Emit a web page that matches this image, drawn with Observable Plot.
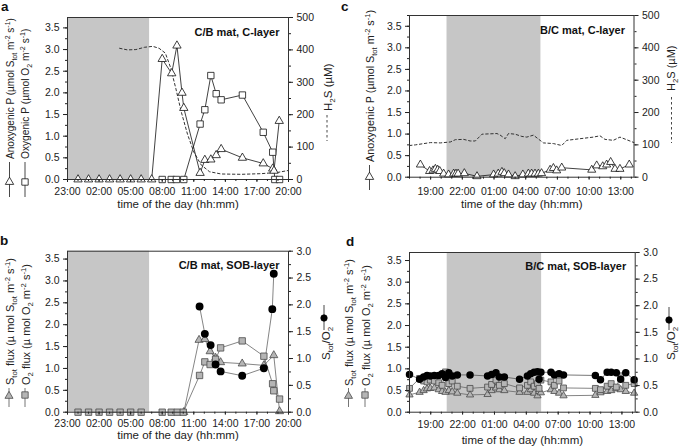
<!DOCTYPE html>
<html><head><meta charset="utf-8">
<script src="https://cdn.jsdelivr.net/npm/d3@7"></script>
<script src="https://cdn.jsdelivr.net/npm/@observablehq/plot@0.6"></script>
<style>
body{margin:0;background:#fff;}
#chart{position:relative;width:679px;height:448px;overflow:hidden;background:#fff;}
#chart svg{position:absolute;}
</style></head><body><div id="chart"></div>
<script>
const FONT = '"Liberation Sans", Arial, Helvetica, sans-serif';

// ---------- Panel a: C/B mat, C-layer ----------
const aAnoxHour = [24,25,26,27,28,29,30,31,32.0,32.9,33.4,33.88,34.05,35.6,36.05,36.62,37.13,37.6,39.62,41.6,42.5,42.62,43.12];
const aAnoxP    = [0,0,0,0,0,0,0,0,2.78,2.45,3.09,2.0,1.65,0.15,0.45,0.46,0.56,0.7,0.5,0.37,0.25,0.2,1.35];
const aOxyHour  = [32.0,32.86,33.35,34.05,35.6,36.05,36.62,37.13,37.6,39.62,41.6,42.5,42.7,43.15];
const aOxyP     = [0,0,0,0,1.28,1.61,2.4,1.98,1.84,1.95,1.09,0.63,0,0];
const aH2SHour  = [27.95,28.7,29.5,30.3,31.1,31.7,32.3,32.8,33.3,33.8,34.4,35.0,35.7,36.5,37.6,39.5,41.4,43.0,44.0];
const aH2S      = [405,400,401,408,411,405,390,345,280,210,140,85,45,24,17,16,18,22,28];

// ---------- Panel b: C/B mat, SOB-layer ----------
const bSHour  = [34.05,35.5,36.05,36.55,37.07,37.55,39.6,41.66,42.6,43.15];
const bSFlux  = [0,1.65,1.67,1.39,1.24,1.14,1.11,1.07,1.3,0.02];
const bO2Hour = [24,25,26,27,28,29,30,32,32.86,33.43,34.0,35.55,36.05,36.55,37.07,37.55,39.6,41.66,42.49,42.6,43.15];
const bO2Flux = [0,0,0,0,0,0,0,0,0,0,0,0.84,1.15,1.09,1.21,1.47,1.63,1.28,0.65,0.49,0.30];
const bRHour  = [35.55,36.05,36.6,37.07,37.55,39.6,41.66,42.46,42.6];
const bRatio  = [1.97,1.46,1.25,0.89,0.76,0.68,0.82,1.92,2.58];

// ---------- Panel c: B/C mat, C-layer ----------
const cAnoxHour = [18.03,18.9,19.23,19.45,19.67,19.86,20.23,20.7,21.18,21.4,21.6,22.19,23.39,24.96,25.4,25.75,25.97,26.37,27.0,27.73,28.25,28.56,28.88,29.2,29.5,30.31,30.62,30.93,31.41,34.25,34.72,35.29,35.66,36.04,36.45,36.92,37.8];
const cAnoxP    = [0.29,0.14,0.155,0.19,0.17,0.14,0.08,0.06,0.08,0.08,0.08,0.09,0.02,0.06,0.08,0.12,0.09,0.06,0.02,0.06,0.08,0.08,0.08,0.08,0.09,0.17,0.21,0.155,0.22,0.17,0.27,0.25,0.29,0.35,0.19,0.19,0.29];
const cH2SHour  = [17.0,17.56,18.98,19.92,20.87,21.34,22.12,22.75,23.23,23.86,25.28,25.59,26.06,26.37,27.0,27.64,28.1,28.73,29.36,29.68,30.62,31.41,31.89,33.14,34.4,35.03,35.5,36.29,36.92,37.55,38.25];
const cH2S      = [98,100,107,106,109,116,117,112,112,133,135,130,119,135,133,126,124,130,114,106,104,98,114,119,124,128,117,114,124,116,107];

// ---------- Panel d: B/C mat, SOB-layer ----------
const dHour  = [17.0,17.95,18.33,18.65,18.96,19.34,19.75,20.07,20.39,20.7,21.02,21.5,22.7,24.35,24.73,25.14,25.46,25.93,27.36,28.1,28.41,28.73,29.05,29.2,29.37,30.32,30.64,31.08,31.5,34.5,34.98,35.61,35.99,36.47,36.88,37.36,38.15];
const dSFlux = [0.40,0.46,0.50,0.54,0.55,0.56,0.52,0.48,0.46,0.50,0.47,0.44,0.40,0.41,0.50,0.56,0.52,0.50,0.46,0.46,0.52,0.44,0.38,0.48,0.45,0.52,0.48,0.44,0.38,0.39,0.45,0.48,0.50,0.54,0.52,0.48,0.44];
const dO2Flux= [0.55,0.78,0.72,0.70,0.74,0.72,0.68,0.62,0.93,0.66,0.72,0.60,0.55,0.58,0.64,0.74,0.62,0.66,0.56,0.62,0.70,0.60,0.66,0.55,0.74,0.70,0.62,0.72,0.56,0.55,0.52,0.60,0.66,0.58,0.84,0.62,0.66];
const dRatio = [0.71,0.62,0.66,0.69,0.68,0.69,0.69,0.72,0.65,0.74,0.68,0.70,0.70,0.68,0.71,0.74,0.66,0.66,0.62,0.68,0.72,0.75,0.76,0.62,0.75,0.75,0.70,0.72,0.70,0.69,0.61,0.75,0.75,0.74,0.62,0.74,0.61];

// ---------- axes ----------
const abTicks = [23,26,29,32,35,38,41,44];
const abTickLabels = ["23:00","02:00","05:00","08:00","11:00","14:00","17:00","20:00"];
const cdTicks = [19,22,25,28,31,34,37];
const cdTickLabels = ["19:00","22:00","01:00","04:00","07:00","10:00","13:00"];
const leftTicks = [0,0.5,1,1.5,2,2.5,3,3.5];
const h2sTicks = [0,100,200,300,400,500];
const ratioTicks = [0,0.5,1,1.5,2,2.5,3];
const xTitle = "time of the day (hh:mm)";
const nightAB = [23, 30.8];
const nightCD = [20.55, 29.44];

const zip = (xs, ys) => xs.map((x, i) => ({x, y: ys[i]}));

function build(cfg) {
  const k = cfg.yTop / cfg.rightTop;
  const tickMap = new Map(cfg.xTicks.map((t, i) => [t, cfg.xLabels[i]]));
  const hours = d3.range(Math.ceil(cfg.xDomain[0]), Math.floor(cfg.xDomain[1]) + 1);
  const minorL = d3.range(0, cfg.yTop + 1e-9, 0.25);
  const rStep = cfg.rightTop === 500 ? 50 : 0.25;
  const minorR = d3.range(0, cfg.rightTop + 1e-9, rStep).map(v => v * k);
  const majorR = cfg.rightTicks.map(v => v * k);
  const svg = Plot.plot({
    width: cfg.w, height: cfg.h,
    marginLeft: cfg.ml, marginRight: cfg.mr, marginTop: cfg.mt, marginBottom: cfg.mb,
    x: {domain: cfg.xDomain},
    y: {domain: [0, cfg.yTop]},
    style: {fontFamily: FONT, fontSize: "10.5px", color: "#222", background: "transparent", overflow: "visible"},
    marks: [
      Plot.rect([cfg.night], {x1: d => d[0], x2: d => d[1], y1: () => 0, y2: () => cfg.yTop, fill: "#c6c6c6"}),
      ...cfg.marks(k),
      Plot.frame({stroke: "#333", strokeWidth: 1}),
      Plot.axisY({ticks: minorL, tickSize: 2, tickFormat: () => "", label: null}),
      Plot.axisY({ticks: leftTicks, tickSize: 4, tickPadding: 4, tickFormat: d => d.toFixed(1), label: null}),
      Plot.axisY({anchor: "right", ticks: minorR, tickSize: 2, tickFormat: () => "", label: null}),
      Plot.axisY({anchor: "right", ticks: majorR, tickSize: 4, tickPadding: 4, tickFormat: d => cfg.rightFmt(d / k), label: null}),
      Plot.axisX({ticks: hours, tickSize: 2, tickFormat: () => "", label: null}),
      Plot.axisX({ticks: cfg.xTicks, tickSize: 3, tickPadding: cfg.xPad, tickFormat: d => tickMap.get(d), label: null}),
      Plot.text([xTitle], {frameAnchor: "bottom", dy: cfg.titleDy, fontSize: 11.5, fill: "#222"}),
      Plot.text([cfg.title], {frameAnchor: "top-right", dx: -9, dy: cfg.tDy, fontSize: 11, fontWeight: "bold", textAnchor: "end", fill: "#111"})
    ]
  });
  svg.style.left = cfg.left + "px";
  svg.style.top = cfg.top + "px";
  document.getElementById("chart").appendChild(svg);
  return svg;
}

function vtext(svg, x, y, parts, size) {
  const t = d3.select(svg).append("text")
    .attr("transform", `translate(${x},${y}) rotate(-90)`)
    .attr("text-anchor", "start")
    .attr("font-family", FONT).attr("font-size", size).attr("fill", "#222")
    .style("white-space", "pre");
  let cur = 0;
  for (const [s, m] of parts) {
    const shift = m === "sub" ? size * 0.3 : m === "sup" ? -size * 0.4 : 0;
    const ts = t.append("tspan").text(s).attr("dy", shift - cur);
    if (m) ts.attr("font-size", size * 0.7);
    cur = shift;
  }
}
function vline(svg, x, y1, y2, stroke, dash) {
  const l = d3.select(svg).append("line").attr("x1", x).attr("x2", x).attr("y1", y1).attr("y2", y2)
    .attr("stroke", stroke).attr("stroke-width", 0.9);
  if (dash) l.attr("stroke-dasharray", dash);
}
function sym(svg, x, y, type, r, fill, stroke) {
  d3.select(svg).append("path").attr("d", d3.symbol(type, r * r * Math.PI)())
    .attr("transform", `translate(${x},${y})`).attr("fill", fill).attr("stroke", stroke).attr("stroke-width", 0.8);
}
function letter(svg, x, y, s) {
  d3.select(svg).append("text").attr("x", x).attr("y", y).attr("text-anchor", "start").attr("font-family", FONT)
    .attr("font-size", 13.5).attr("font-weight", "bold").attr("fill", "#111").text(s);
}

const anoxLabel = [["Anoxygenic P (µmol S"], ["tot", "sub"], [" m"], ["-2", "sup"], [" s"], ["-1", "sup"], [")"]];
const oxyLabel = [["Oxygenic P (µmol O"], ["2", "sub"], [" m"], ["-2", "sup"], [" s"], ["-1", "sup"], [")"]];
const sfluxLabel = [["S"], ["tot", "sub"], [" flux (µ mol S"], ["tot", "sub"], [" m"], ["-2", "sup"], [" s"], ["-1", "sup"], [")"]];
const o2fluxLabel = [["O"], ["2", "sub"], [" flux (µ mol O"], ["2", "sub"], [" m"], ["-2", "sup"], [" s"], ["-1", "sup"], [")"]];
const h2sLabel = [["H"], ["2", "sub"], ["S (µM)"]];
const ratioLabel = [["S"], ["tot", "sub"], ["/O"], ["2", "sub"]];

const fmtH2S = v => String(Math.round(v));
const fmtRatio = v => v.toFixed(1);
const grayFill = "#b5b5b5", grayStroke = "#4a4a4a", lineGray = "#666";

// ---- Panel a ----
const A = {anox: zip(aAnoxHour, aAnoxP), oxy: zip(aOxyHour, aOxyP), h2s: zip(aH2SHour, aH2S)};
const svgA = build({
  left: 0, top: 0, w: 340, h: 220, ml: 67, mr: 52, mt: 17, mb: 41,
  xDomain: [23, 44], yTop: 3.74, rightTop: 500, rightTicks: h2sTicks, rightFmt: fmtH2S,
  xTicks: abTicks, xLabels: abTickLabels, xPad: 5, titleDy: 28, tDy: 10.5,
  night: nightAB, title: "C/B mat, C-layer",
  marks: k => [
    Plot.line(A.h2s, {x: "x", y: d => d.y * k, stroke: "#333", strokeWidth: 1, strokeDasharray: "2.5,2.5"}),
    Plot.line(A.anox, {x: "x", y: "y", stroke: "#111", strokeWidth: 0.8}),
    Plot.line(A.oxy, {x: "x", y: "y", stroke: "#111", strokeWidth: 0.8}),
    Plot.dot(A.anox, {x: "x", y: "y", symbol: "triangle", r: 3.1, fill: "white", stroke: "#111", strokeWidth: 0.8}),
    Plot.dot(A.oxy, {x: "x", y: "y", symbol: "square", r: 3.6, fill: "white", stroke: "#111", strokeWidth: 0.8})
  ]
});
letter(svgA, 1, 11, "a");
vline(svgA, 9.5, 162, 197, "#333"); sym(svgA, 9.5, 182, d3.symbolTriangle, 3.1, "white", "#111");
vtext(svgA, 13.5, 159, anoxLabel, 10);
vline(svgA, 25, 162, 197, "#333"); sym(svgA, 25, 182, d3.symbolSquare, 3.6, "white", "#111");
vtext(svgA, 29, 159, oxyLabel, 10.2);
vline(svgA, 327, 115, 141, "#333", "2.5,2.5");
vtext(svgA, 331.5, 111, h2sLabel, 11.5);

// ---- Panel c ----
const C = {anox: zip(cAnoxHour, cAnoxP), h2s: zip(cH2SHour, cH2S)};
const svgC = build({
  left: 339, top: 0, w: 340, h: 220, ml: 70, mr: 45.5, mt: 15, mb: 43.3,
  xDomain: [17, 38.25], yTop: 3.75, rightTop: 500, rightTicks: h2sTicks, rightFmt: fmtH2S,
  xTicks: cdTicks, xLabels: cdTickLabels, xPad: 7, titleDy: 31, tDy: 11,
  night: nightCD, title: "B/C mat, C-layer",
  marks: k => [
    Plot.line(C.h2s, {x: "x", y: d => d.y * k, stroke: "#333", strokeWidth: 1, strokeDasharray: "2.5,2.5"}),
    Plot.line(C.anox, {x: "x", y: "y", stroke: "#111", strokeWidth: 0.8}),
    Plot.dot(C.anox, {x: "x", y: "y", symbol: "triangle", r: 3.0, fill: "white", stroke: "#111", strokeWidth: 0.8})
  ]
});
letter(svgC, 2, 11, "c");
vline(svgC, 30.5, 165, 190, "#333"); sym(svgC, 30.5, 177, d3.symbolTriangle, 3.1, "white", "#111");
vtext(svgC, 35, 162, anoxLabel, 10.8);
vline(svgC, 332.5, 97, 143, "#333", "2.5,2.5");
vtext(svgC, 336, 91, h2sLabel, 11);

// ---- Panel b ----
const B = {s: zip(bSHour, bSFlux), o2: zip(bO2Hour, bO2Flux), r: zip(bRHour, bRatio)};
const svgB = build({
  left: 0, top: 220, w: 340, h: 228, ml: 67, mr: 52, mt: 30.7, mb: 36.3,
  xDomain: [23, 44], yTop: 3.68, rightTop: 3, rightTicks: ratioTicks, rightFmt: fmtRatio,
  xTicks: abTicks, xLabels: abTickLabels, xPad: 4, titleDy: 26.5, tDy: 9.5,
  night: nightAB, title: "C/B mat, SOB-layer",
  marks: k => [
    Plot.line(B.r, {x: "x", y: d => d.y * k, stroke: lineGray, strokeWidth: 0.8}),
    Plot.line(B.s, {x: "x", y: "y", stroke: lineGray, strokeWidth: 0.8}),
    Plot.line(B.o2, {x: "x", y: "y", stroke: lineGray, strokeWidth: 0.8}),
    Plot.dot(B.s, {x: "x", y: "y", symbol: "triangle", r: 3.0, fill: grayFill, stroke: grayStroke, strokeWidth: 0.8}),
    Plot.dot(B.o2, {x: "x", y: "y", symbol: "square", r: 3.6, fill: grayFill, stroke: grayStroke, strokeWidth: 0.8}),
    Plot.dot(B.r, {x: "x", y: d => d.y * k, r: 3.2, fill: "#000", stroke: "#000"})
  ]
});
letter(svgB, 0, 25, "b");
vline(svgB, 9, 168, 187, lineGray); sym(svgB, 9, 176, d3.symbolTriangle, 3.0, grayFill, grayStroke);
vtext(svgB, 14, 165, sfluxLabel, 11);
vline(svgB, 25, 168, 187, lineGray); sym(svgB, 25, 175, d3.symbolSquare, 3.6, grayFill, grayStroke);
vtext(svgB, 30, 165, o2fluxLabel, 11);
vline(svgB, 324, 85, 110, "#333"); sym(svgB, 324, 98, d3.symbolCircle, 3.2, "#000", "#000");
vtext(svgB, 329.5, 140, ratioLabel, 11.5);

// ---- Panel d ----
const D = {s: zip(dHour, dSFlux), o2: zip(dHour, dO2Flux), r: zip(dHour, dRatio)};
const svgD = build({
  left: 339, top: 220, w: 340, h: 228, ml: 70, mr: 44.3, mt: 32, mb: 36.3,
  xDomain: [17, 38.25], yTop: 3.685, rightTop: 3, rightTicks: ratioTicks, rightFmt: fmtRatio,
  xTicks: cdTicks, xLabels: cdTickLabels, xPad: 5, titleDy: 32, tDy: 10,
  night: nightCD, title: "B/C mat, SOB-layer",
  marks: k => [
    Plot.line(D.s, {x: "x", y: "y", stroke: lineGray, strokeWidth: 0.8}),
    Plot.line(D.o2, {x: "x", y: "y", stroke: lineGray, strokeWidth: 0.8}),
    Plot.line(D.r, {x: "x", y: d => d.y * k, stroke: "#555", strokeWidth: 0.8}),
    Plot.dot(D.s, {x: "x", y: "y", symbol: "triangle", r: 2.7, fill: grayFill, stroke: grayStroke, strokeWidth: 0.8}),
    Plot.dot(D.o2, {x: "x", y: "y", symbol: "square", r: 3.3, fill: grayFill, stroke: grayStroke, strokeWidth: 0.8}),
    Plot.dot(D.r, {x: "x", y: d => d.y * k, r: 3.0, fill: "#000", stroke: "#000"})
  ]
});
letter(svgD, 7, 26, "d");
vline(svgD, 9.5, 168, 187, lineGray); sym(svgD, 9.5, 176, d3.symbolTriangle, 3.0, grayFill, grayStroke);
vtext(svgD, 14, 166, sfluxLabel, 11);
vline(svgD, 26, 168, 187, lineGray); sym(svgD, 26, 175, d3.symbolSquare, 3.6, grayFill, grayStroke);
vtext(svgD, 31, 166, o2fluxLabel, 11);
vline(svgD, 330, 87, 110, "#333"); sym(svgD, 330, 100, d3.symbolCircle, 3.2, "#000", "#000");
vtext(svgD, 336, 140, ratioLabel, 11.5);
</script>
</body></html>
